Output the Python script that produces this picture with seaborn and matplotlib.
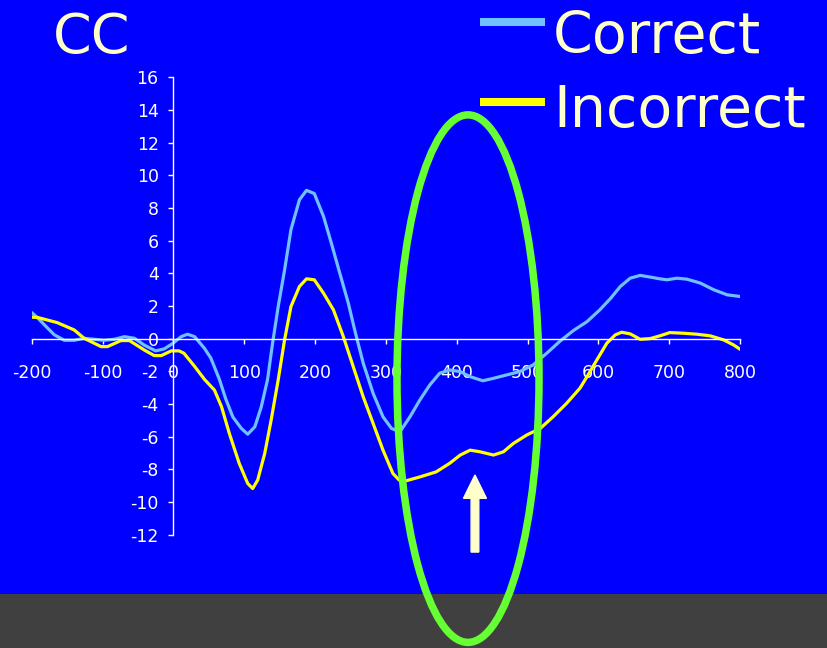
import matplotlib
matplotlib.use("Agg")
import matplotlib.pyplot as plt
import numpy as np
import pandas as pd
import seaborn as sns
from matplotlib.patches import Ellipse, FancyArrow, Rectangle
from matplotlib.lines import Line2D

# ---------------- data ----------------
title = "CC"
series_names = ["Correct", "Incorrect"]

correct_ms = [-200, -190, -182, -168, -154, -140, -126, -112, -98, -83, -69, -55, -41, -25, -13, -1,
              11, 20, 30, 44, 53, 65, 74, 84, 96, 105, 115, 124, 133, 140, 148, 157, 166, 178,
              188, 199, 212, 223, 235, 247, 256, 268, 282, 296, 308, 320, 334, 348, 362, 376,
              390, 405, 419, 437, 452, 470, 489, 508, 527, 546, 565, 584, 602, 617, 631, 645,
              659, 673, 687, 697, 711, 725, 744, 763, 782, 800]
correct_uv = [1.6, 1.2, 0.84, 0.23, -0.1, -0.1, 0.02, -0.04, -0.1, -0.04, 0.12, 0.02, -0.4, -0.75, -0.63, -0.3,
              0.12, 0.27, 0.12, -0.6, -1.2, -2.5, -3.7, -4.8, -5.5, -5.85, -5.4, -4.2, -2.5, -0.3, 1.96, 4.2, 6.67, 8.5,
              9.08, 8.88, 7.48, 5.85, 4.0, 2.17, 0.53, -1.5, -3.35, -4.79, -5.5, -5.7, -4.79, -3.76, -2.84, -2.12,
              -1.92, -2.02, -2.33, -2.58, -2.43, -2.23, -2.02, -1.61, -0.9, -0.15, 0.5, 1.04, 1.76, 2.45, 3.19, 3.7,
              3.87, 3.77, 3.66, 3.6, 3.7, 3.64, 3.4, 2.99, 2.68, 2.58]

incorrect_ms = [-200, -192, -164, -140, -126, -102, -93, -74, -62, -41, -27, -17, -3, 8, 15, 30, 44, 58,
                68, 79, 93, 105, 112, 119, 129, 138, 148, 157, 166, 178, 188, 199, 212, 226, 240, 254,
                268, 282, 296, 310, 319, 329, 348, 371, 390, 405, 419, 433, 452, 466, 480, 499, 518, 536,
                555, 574, 584, 598, 612, 624, 633, 645, 659, 673, 687, 701, 720, 739, 758, 777, 791, 800]
incorrect_uv = [1.31, 1.3, 0.98, 0.53, 0.02, -0.49, -0.49, -0.12, -0.12, -0.7, -1.04, -1.04, -0.75, -0.75, -0.9, -1.7, -2.5, -3.15,
                -4.17, -5.8, -7.64, -8.87, -9.18, -8.67, -7.03, -5.0, -2.53, -0.08, 1.96, 3.19, 3.66, 3.6, 2.78, 1.76, 0.12, -1.72,
                -3.56, -5.19, -6.83, -8.26, -8.67, -8.7, -8.47, -8.16, -7.64, -7.13, -6.83, -6.93, -7.13, -6.93, -6.42, -5.9, -5.5, -4.79,
                -3.97, -3.04, -2.33, -1.3, -0.28, 0.23, 0.39, 0.29, -0.04, 0.0, 0.17, 0.37, 0.33, 0.27, 0.17, -0.08, -0.39, -0.65]

x_ticks = list(range(-200, 801, 100))
y_ticks = list(range(-12, 17, 2))

# ---------------- styling ----------------
BLUE = "#0000FF"
LIGHT = "#6EC0FF"
YELLOW = "#FFFF00"
CREAM = "#FFFFCC"
GREEN = "#66FF33"

sns.set_theme(style="white")
plt.rcParams["font.family"] = ["DejaVu Sans"]
plt.rcParams["axes.unicode_minus"] = False

W, H = 827, 648
fig = plt.figure(figsize=(W / 100, H / 100), dpi=100, facecolor=BLUE)
ax = fig.add_axes([31.7 / W, 1 - 534.6 / H, 708.3 / W, (534.6 - 77.3) / H])
ax.set_facecolor("none")

# grey band at the bottom of the slide
fig.add_artist(Rectangle((0, 0), 1, (H - 594) / H, transform=fig.transFigure,
                         facecolor="#404040", edgecolor="none", zorder=-1))

df_c = pd.DataFrame({"ms": correct_ms, "uv": correct_uv})
df_i = pd.DataFrame({"ms": incorrect_ms, "uv": incorrect_uv})
sns.lineplot(data=df_c, x="ms", y="uv", color=LIGHT, lw=2.3, ax=ax,
             estimator=None, sort=False, label=series_names[0], legend=False)
sns.lineplot(data=df_i, x="ms", y="uv", color=YELLOW, lw=2.3, ax=ax,
             estimator=None, sort=False, label=series_names[1], legend=False)

ax.set_xlim(-200, 800)
ax.set_ylim(-12, 16)
ax.set_xticks(x_ticks)
ax.set_xticklabels([str(v) for v in x_ticks])
ax.set_yticks(y_ticks)
ax.set_yticklabels([str(v) for v in y_ticks])
ax.set_xlabel("")
ax.set_ylabel("")

for s in ["top", "right"]:
    ax.spines[s].set_visible(False)
for s in ["left", "bottom"]:
    ax.spines[s].set_position(("data", 0))
    ax.spines[s].set_color("white")
    ax.spines[s].set_linewidth(1.0)

ax.tick_params(axis="both", colors="white", direction="out", length=3.6, width=1.0,
               labelsize=12.5, bottom=True, left=True)
ax.tick_params(axis="x", pad=15)
ax.tick_params(axis="y", pad=7)

# green ellipse highlighting the N400 window
ax.add_patch(Ellipse((416, -2.45), width=200.5, height=32.3, fill=False,
                     edgecolor=GREEN, lw=5.4, clip_on=False, zorder=5))
# white arrow
ax.add_patch(FancyArrow(425.8, -13.07, 0, 4.72, width=10.9, head_width=32.5,
                        head_length=1.43, length_includes_head=True,
                        color=CREAM, clip_on=False, zorder=6))

# title and legend
fig.text(53 / W, 1 - 53 / H, title, fontsize=40, color=CREAM, ha="left", va="baseline")
for name, col, ly, ty in [(series_names[0], LIGHT, 22, 53), (series_names[1], YELLOW, 102, 127)]:
    fig.add_artist(Line2D([480 / W, 545 / W], [1 - ly / H, 1 - ly / H], transform=fig.transFigure,
                          color=col, lw=5.8, solid_capstyle="butt"))
    fig.text(553 / W, 1 - ty / H, name, fontsize=41, color=CREAM, ha="left", va="baseline")

fig.savefig("out.png", dpi=100, facecolor=BLUE)
